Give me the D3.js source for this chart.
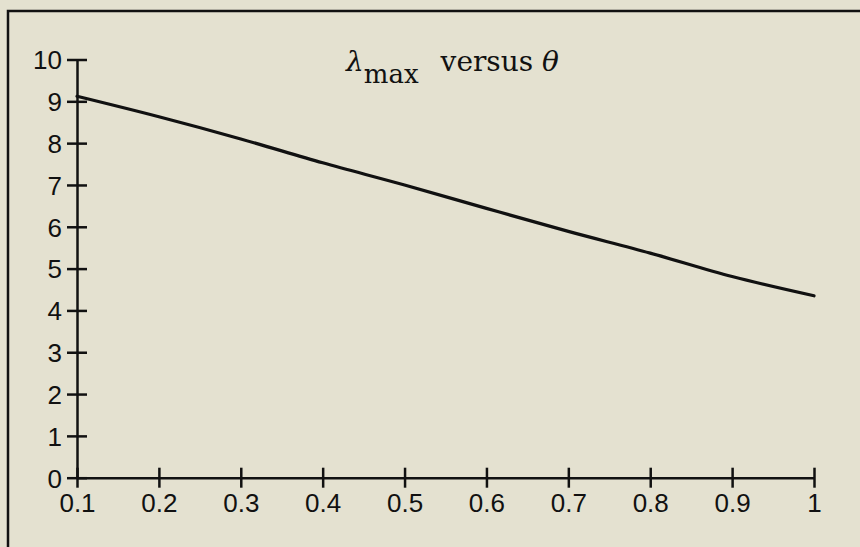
<!DOCTYPE html>
<html>
<head>
<meta charset="utf-8">
<script src="https://cdn.jsdelivr.net/npm/d3@7"></script>
<style>
	body { margin: 0; background: #e4e1d0; }
	svg { display: block; }
	.axis text { font-family: "Liberation Sans", Arial, sans-serif; font-size: 26px; fill: #111; }
	.axis path, .axis line { stroke: #111; stroke-width: 2.5; }
</style>
</head>
<body>
<svg width="860" height="547"></svg>
<script>
// theta values and the lambda max
var theta = [0.1, 0.2, 0.3, 0.4, 0.5, 0.6, 0.7, 0.8, 0.9, 1.0]
var lambdaMax = [9.12, 8.63, 8.1, 7.53, 7.0, 6.44, 5.89, 5.37, 4.81, 4.35]
var xTicks = [0.1, 0.2, 0.3, 0.4, 0.5, 0.6, 0.7, 0.8, 0.9, 1]
var yTicks = [0, 1, 2, 3, 4, 5, 6, 7, 8, 9, 10]

var svg = d3.select("svg")

// the frame round the plot (top and left only)
svg.append("path")
	.attr("d", "M8,547V11H860")
	.attr("fill", "none")
	.attr("stroke", "#111")
	.attr("stroke-width", 2.5)

var x = d3.scaleLinear().domain([0.1, 1]).range([77, 814]),
	y = d3.scaleLinear().domain([0, 10]).range([477.7, 59.5])

// axes with ticks that cross the line
svg.append("g")
	.attr("class", "axis axis--x")
	.attr("transform", "translate(0," + y(0) + ")")
	.call(d3.axisBottom(x).tickValues(xTicks).tickSize(10).tickSizeOuter(0)
		.tickFormat(function(d) { return d === 1 ? "1" : d3.format(".1f")(d) }))
	.call(function(g) {
		g.selectAll(".tick line").attr("y1", -10)
		g.selectAll(".tick text").attr("y", 16).attr("dy", "0.71em")
	})

svg.append("g")
	.attr("class", "axis axis--y")
	.attr("transform", "translate(" + x(0.1) + ",0)")
	.call(d3.axisLeft(y).tickValues(yTicks).tickSize(10).tickSizeOuter(0))
	.call(function(g) {
		g.selectAll(".tick line").attr("x1", 10)
		g.selectAll(".tick text").attr("x", -15).attr("dy", "0.36em")
	})

// the curve
var line = d3.line()
	.x(function(d, i) { return x(theta[i]) })
	.y(function(d) { return y(d) })
	.curve(d3.curveMonotoneX)

svg.append("path")
	.datum(lambdaMax)
	.attr("fill", "none")
	.attr("stroke", "#111")
	.attr("stroke-width", 3.2)
	.attr("stroke-linecap", "round")
	.attr("d", line)

// title
var title = svg.append("text")
	.attr("x", 346)
	.attr("y", 71)
	.attr("font-family", "'DejaVu Serif', 'Liberation Serif', serif")
	.attr("font-size", 28)
	.attr("fill", "#111")
title.append("tspan").attr("font-style", "italic").text("λ")
title.append("tspan").attr("dy", 12).attr("font-size", 26).text("max")
title.append("tspan").attr("dy", -12).attr("dx", 22).text("versus ")
title.append("tspan").attr("font-style", "italic").text("θ")
</script>
</body>
</html>
